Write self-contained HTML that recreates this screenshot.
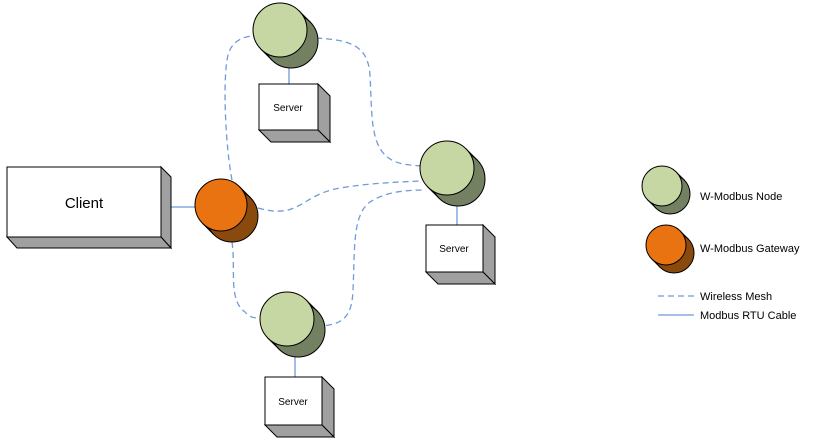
<!DOCTYPE html>
<html><head><style>body{margin:0;background:#fff}svg{display:block}</style></head><body>
<svg width="813" height="447" viewBox="0 0 813 447" xmlns="http://www.w3.org/2000/svg" font-family="Liberation Sans, sans-serif">
<g fill="none" stroke="#6f9bd9" stroke-width="1.3" stroke-dasharray="6,4">
<path d="M232,180 C226,150 222,80 228,55 C232,40 245,36 254,36"/>
<path d="M316,38 C350,40 368,45 370,75 C372,110 370,140 385,155 C395,165 410,165 422,166"/>
<path d="M258,208 C300,220 300,195 340,188 C370,183 400,182 421,181"/>
<path d="M232,242 C236,270 228,300 245,312 C250,318 255,318 261,318"/>
<path d="M316,326 C345,326 352,315 353,290 C355,250 352,215 370,202 C385,192 405,190 425,190"/>
<path d="M658,296 H694"/>
</g>
<g stroke="#6f9bd9" stroke-width="1.3">
<line x1="171" y1="207" x2="196" y2="207"/>
<line x1="289" y1="58" x2="289" y2="84"/>
<line x1="457" y1="194" x2="457" y2="225"/>
<line x1="295" y1="344" x2="295" y2="377"/>
<line x1="658" y1="315" x2="694" y2="315"/>
</g>
<g stroke="#000" stroke-width="1">
<polygon points="161,167 171,177 171,248 161,237" fill="#a0a0a0"/>
<polygon points="7,237 161,237 171,248 17,248" fill="#a0a0a0"/>
<rect x="7" y="167" width="154" height="70" fill="#fff"/>
<polygon points="318,84 330,96 330,142 318,130" fill="#a0a0a0"/>
<polygon points="259,130 318,130 330,142 271,142" fill="#a0a0a0"/>
<rect x="259" y="84" width="59" height="46" fill="#fff"/>
<polygon points="483,225 495,237 495,284 483,272" fill="#a0a0a0"/>
<polygon points="426,272 483,272 495,284 438,284" fill="#a0a0a0"/>
<rect x="426" y="225" width="57" height="47" fill="#fff"/>
<polygon points="322,377 334,389 334,437 322,425" fill="#a0a0a0"/>
<polygon points="265,425 322,425 334,437 277,437" fill="#a0a0a0"/>
<rect x="265" y="377" width="57" height="48" fill="#fff"/>

<polygon points="202.6,223.4 213.6,234.4 250.4,197.6 239.4,186.6" fill="#8b4a0d"/>
<circle cx="232" cy="216" r="26" fill="#8b4a0d"/>
<circle cx="221" cy="205" r="26" fill="#ea7311"/>

<polygon points="260.9,49.1 271.9,60.1 310.1,21.9 299.1,10.9" fill="#748062"/>
<circle cx="291" cy="41" r="27" fill="#748062"/>
<circle cx="280" cy="30" r="27" fill="#c6d7a3"/>

<polygon points="427.9,187.1 438.9,198.1 477.1,159.9 466.1,148.9" fill="#748062"/>
<circle cx="458" cy="179" r="27" fill="#748062"/>
<circle cx="447" cy="168" r="27" fill="#c6d7a3"/>

<polygon points="267.9,338.1 278.9,349.1 317.1,310.9 306.1,299.9" fill="#748062"/>
<circle cx="298" cy="330" r="27" fill="#748062"/>
<circle cx="287" cy="319" r="27" fill="#c6d7a3"/>

<polygon points="647.9,200.1 655.9,208.1 684.1,179.9 676.1,171.9" fill="#748062"/>
<circle cx="670" cy="194" r="20" fill="#748062"/>
<circle cx="662" cy="186" r="20" fill="#c6d7a3"/>

<polygon points="651.9,259.1 659.9,267.1 688.1,238.9 680.1,230.9" fill="#8b4a0d"/>
<circle cx="674" cy="253" r="20" fill="#8b4a0d"/>
<circle cx="666" cy="245" r="20" fill="#ea7311"/>
</g>
<g fill="#000">
<text x="84" y="208" font-size="15" text-anchor="middle">Client</text>
<text x="288" y="111" font-size="10" text-anchor="middle">Server</text>
<text x="454" y="252" font-size="10" text-anchor="middle">Server</text>
<text x="293" y="405" font-size="10" text-anchor="middle">Server</text>
<text x="700" y="200" font-size="11">W-Modbus Node</text>
<text x="700" y="252" font-size="11">W-Modbus Gateway</text>
<text x="700" y="300" font-size="11">Wireless Mesh</text>
<text x="700" y="319" font-size="11">Modbus RTU Cable</text>
</g>
</svg>
</body></html>
